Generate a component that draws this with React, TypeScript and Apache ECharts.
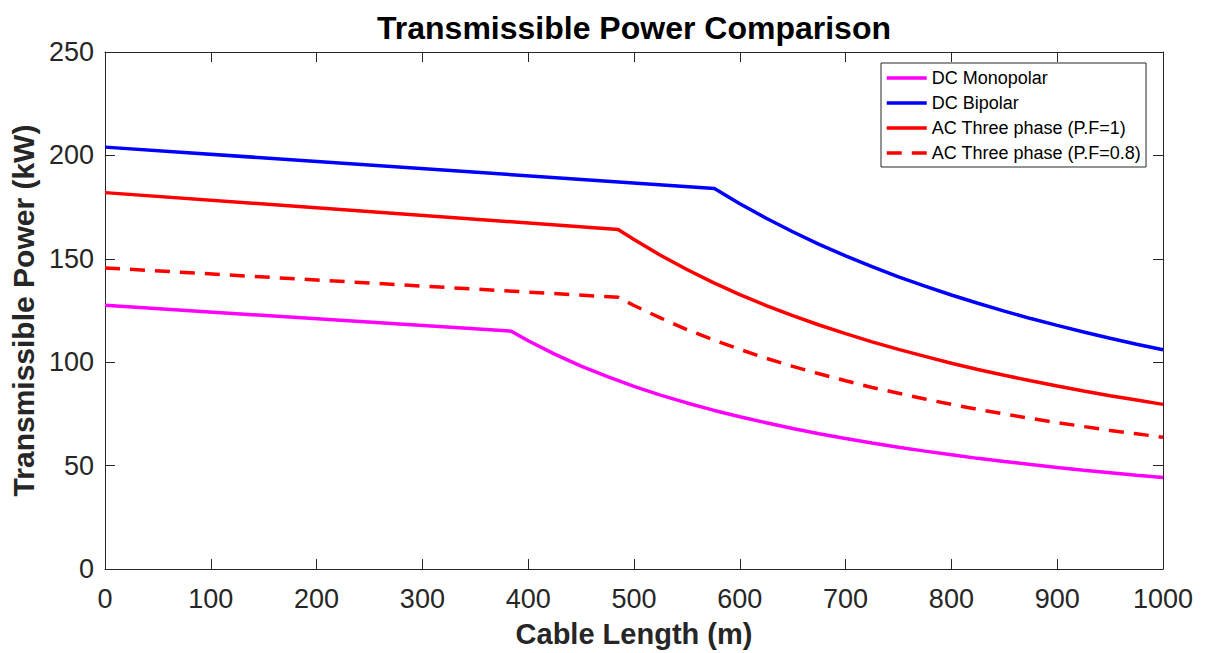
import React, { useEffect, useRef } from "react";
import * as echarts from "echarts";

const monoLength = [0, 384, 400, 425, 450, 475, 500, 525, 550, 575, 600, 625, 650, 675, 700, 725, 750, 775, 800, 825, 850, 875, 900, 925, 950, 975, 1000];
const monoPower = [127.5, 115, 110.4, 103.9, 98.1, 93, 88.3, 84.1, 80.3, 76.8, 73.6, 70.7, 67.9, 65.4, 63.1, 60.9, 58.9, 57, 55.2, 53.5, 52, 50.5, 49.1, 47.7, 46.5, 45.3, 44.2];

const bipLength = [0, 576, 600, 625, 650, 675, 700, 725, 750, 775, 800, 825, 850, 875, 900, 925, 950, 975, 1000];
const bipPower = [204, 184, 176.6, 169.6, 163.1, 157, 151.4, 146.2, 141.3, 136.8, 132.5, 128.5, 124.7, 121.1, 117.8, 114.6, 111.6, 108.7, 106];

const acLength = [0, 485, 500, 525, 550, 575, 600, 625, 650, 675, 700, 725, 750, 775, 800, 825, 850, 875, 900, 925, 950, 975, 1000];
const ac1Power = [182, 164.2, 159.3, 151.7, 144.8, 138.5, 132.7, 127.4, 122.5, 118, 113.8, 109.8, 106.2, 102.8, 99.5, 96.5, 93.7, 91, 88.5, 86.1, 83.8, 81.7, 79.6];
const ac08Power = [145.6, 131.4, 127.4, 121.4, 115.8, 110.8, 106.2, 101.9, 98, 94.4, 91, 87.8, 85, 82.2, 79.6, 77.2, 75, 72.8, 70.8, 68.9, 67, 65.4, 63.7];

const seriesNames = [
  "DC Monopolar",
  "DC Bipolar",
  "AC Three phase (P.F=1)",
  "AC Three phase (P.F=0.8)",
];

const zip = (xs: number[], ys: number[]) => xs.map((x, i) => [x, ys[i]]);

const FONT = "Liberation Sans, Arial, Helvetica, sans-serif";
const AX = "#262626";

export default function App() {
  const ref = useRef<HTMLDivElement>(null);
  useEffect(() => {
    if (!ref.current) return;
    const chart = echarts.init(ref.current, undefined, { renderer: "svg" });
    const axisCommon = {
      axisLine: { show: true, onZero: false, lineStyle: { color: AX, width: 1 } },
      axisTick: { show: true, inside: true, length: 10, lineStyle: { color: AX, width: 1 } },
      splitLine: { show: false },
    };
    const mkLine = (name: string, data: number[][], color: string, dashed = false) => ({
      name,
      type: "line",
      data,
      showSymbol: false,
      symbol: "none",
      smooth: false,
      lineStyle: { color, width: 3.5, type: dashed ? [15, 10] : "solid" },
      itemStyle: { color },
    });
    chart.setOption({
      animation: false,
      backgroundColor: "#ffffff",
      textStyle: { fontFamily: FONT },
      title: {
        text: "Transmissible Power Comparison",
        left: 629,
        textAlign: "center",
        top: 7,
        textStyle: { fontSize: 32, fontWeight: "bold", color: "#000", fontFamily: FONT },
      },
      grid: { left: 105, right: 43, top: 52, bottom: 81, containLabel: false },
      legend: {
        orient: "vertical",
        left: 881,
        top: 63,
        itemWidth: 40,
        itemHeight: 14,
        itemGap: 7,
        padding: [6, 5, 5, 4],
        borderColor: AX,
        borderWidth: 1,
        backgroundColor: "#fff",
        itemStyle: { opacity: 0 },
        lineStyle: { width: 3.5 },
        textStyle: { fontSize: 18, color: "#000", fontFamily: FONT },
        data: seriesNames,
      },
      xAxis: [
        {
          type: "value",
          min: 0,
          max: 1000,
          interval: 100,
          position: "bottom",
          name: "Cable Length (m)",
          nameLocation: "middle",
          nameGap: 50,
          nameTextStyle: { fontSize: 29, fontWeight: "bold", color: AX, fontFamily: FONT },
          axisLabel: { fontSize: 27, color: AX, margin: 16, fontFamily: FONT, formatter: (v: number) => String(v) },
          ...axisCommon,
        },
        {
          type: "value",
          min: 0,
          max: 1000,
          interval: 100,
          position: "top",
          axisLabel: { show: false },
          ...axisCommon,
        },
      ],
      yAxis: [
        {
          type: "value",
          min: 0,
          max: 250,
          interval: 50,
          position: "left",
          name: "Transmissible Power (kW)",
          nameLocation: "middle",
          nameGap: 64,
          nameTextStyle: { fontSize: 30, fontWeight: "bold", color: AX, fontFamily: FONT },
          axisLabel: { fontSize: 27, color: AX, margin: 11, fontFamily: FONT },
          ...axisCommon,
        },
        {
          type: "value",
          min: 0,
          max: 250,
          interval: 50,
          position: "right",
          axisLabel: { show: false },
          ...axisCommon,
        },
      ],
      series: [
        mkLine(seriesNames[0], zip(monoLength, monoPower), "#ff00ff"),
        mkLine(seriesNames[1], zip(bipLength, bipPower), "#0000ff"),
        mkLine(seriesNames[2], zip(acLength, ac1Power), "#ff0000"),
        mkLine(seriesNames[3], zip(acLength, ac08Power), "#ff0000", true),
      ],
    });
    return () => chart.dispose();
  }, []);
  return <div ref={ref} style={{ width: 1206, height: 653, position: "absolute", left: 0, top: 0 }} />;
}
